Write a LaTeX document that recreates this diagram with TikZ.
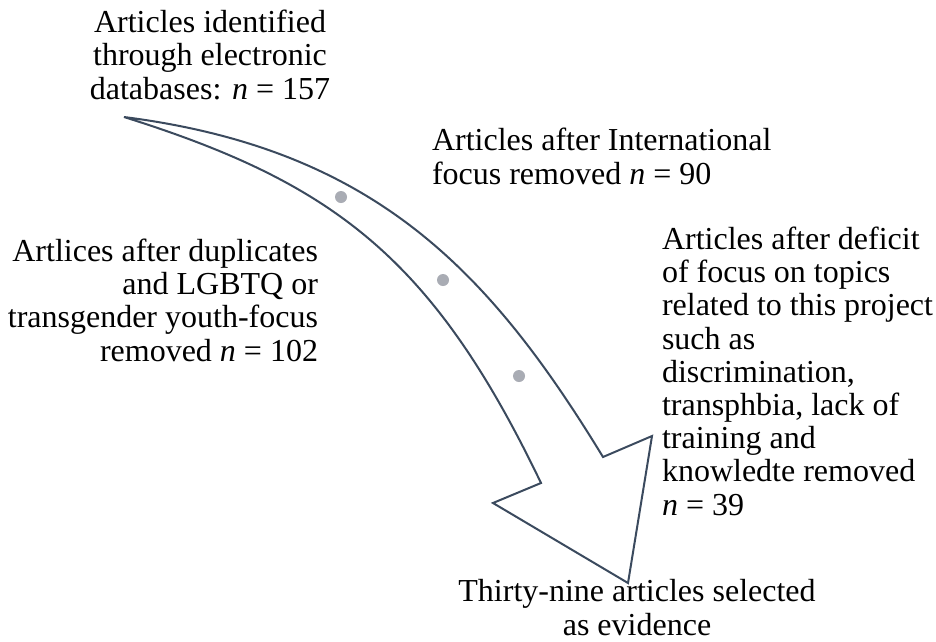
\documentclass[tikz,border=0pt]{standalone}
\usepackage{fontspec}
\setmainfont{Liberation Serif}
\definecolor{arrowline}{HTML}{3B4A5E}
\definecolor{dotgray}{HTML}{A9ACB4}
\tikzset{
  lbl/.style={inner sep=0pt, outer sep=0pt, font=\fontsize{32}{33.2}\selectfont},
  arrowshape/.style={draw=arrowline, line width=2pt, line join=miter, fill=white},
  stepdot/.style={fill=dotgray, draw=none}
}
\begin{document}
\begin{tikzpicture}[x=1pt, y=-1pt]
\useasboundingbox (0,0) rectangle (936,641);
% arrow
\draw[arrowshape] (124,117) .. controls (374,149) and (489,270) .. (603,457)
  -- (652,436) -- (628,583) -- (493,503) -- (541,483)
  .. controls (433,258) and (334,183) .. (124,117) -- cycle;
\fill[stepdot] (341,197) circle (6);
\fill[stepdot] (443,280) circle (6);
\fill[stepdot] (519,376) circle (6);
% texts (base anchor = baseline of the last line)
\node[lbl, align=center, anchor=base] (start) at (210,99)
  {Articles identified\\through electronic\\databases: \textit{n} = 157};
\node[lbl, align=left, anchor=base west] (intl) at (432,184)
  {Articles after International\\focus removed \textit{n} = 90};
\node[lbl, align=right, anchor=base east] (dup) at (318,361)
  {Artlices after duplicates\\and LGBTQ or\\transgender youth-focus\\removed \textit{n} = 102};
\node[lbl, align=left, anchor=base west] (deficit) at (662,515)
  {Articles after deficit\\of focus on topics\\related to this project\\such as\\discrimination,\\transphbia, lack of\\training and\\knowledte removed\\\textit{n} = 39};
\node[lbl, align=center, anchor=base] (final) at (637,635)
  {Thirty-nine articles selected\\as evidence};
\end{tikzpicture}
\end{document}
